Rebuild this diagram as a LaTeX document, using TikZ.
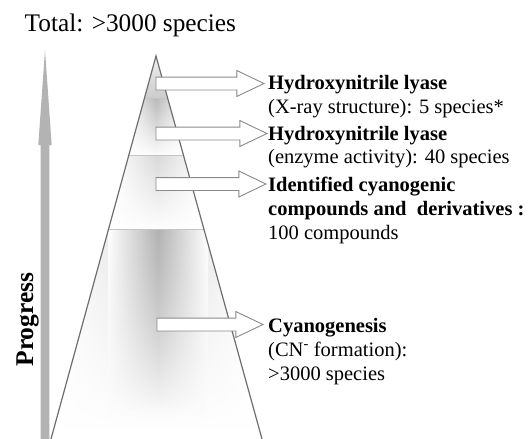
\documentclass[tikz,border=0pt]{standalone}
\usepackage{fontspec}
\setmainfont{Liberation Serif}
\usetikzlibrary{shapes.arrows,fadings,calc}
\definecolor{pyrline}{HTML}{6E6E6E}
\definecolor{sepline}{HTML}{C4C4C4}
\definecolor{arrline}{HTML}{8A8A8A}
\definecolor{progcol}{HTML}{B3B3B3}
\tikzfading[name=longdown, top color=transparent!0, middle color=transparent!25, bottom color=transparent!100]
\begin{document}
\begin{tikzpicture}[x=1pt,y=-1pt,
  blk/.style={single arrow, draw=arrline, fill=white, line width=0.9pt,
    inner xsep=0pt, inner ysep=6pt, outer sep=0pt,
    single arrow head extend=6.5pt, single arrow tip angle=51,
    anchor=tail},
  lbl/.style={anchor=base west, inner sep=0pt, font=\fontsize{20.5}{24}\selectfont},
  lblb/.style={lbl, font=\fontsize{20.5}{24}\selectfont\bfseries},
  pyr/.style={draw=pyrline, line width=1.2pt},
  sep/.style={draw=sepline, line width=1pt}]
\useasboundingbox (0,0) rectangle (528,439);
\fill[white] (0,0) rectangle (528,439);

% pyramid corner points
\coordinate (apex) at (156,56);
\coordinate (bl) at (51,439);
\coordinate (br) at (262,439);
\coordinate (l1) at ($(apex)!0.1097!(bl)$);
\coordinate (r1) at ($(apex)!0.1097!(br)$);
\coordinate (l2) at ($(apex)!0.2585!(bl)$);
\coordinate (r2) at ($(apex)!0.2585!(br)$);
\coordinate (l3) at ($(apex)!0.4517!(bl)$);
\coordinate (r3) at ($(apex)!0.4517!(br)$);

% shadings of the bands
\shade[top color=gray!12, bottom color=gray!40] (apex) -- (r1) -- (l1) -- cycle;
\begin{scope}
  \clip (l1) -- (r1) -- (r2) -- (l2) -- cycle;
  \shade[left color=white, right color=white, middle color=gray!55, path fading=south] (125,98) rectangle (187,158);
\end{scope}
\begin{scope}
  \clip (l2) -- (r2) -- (r3) -- (l3) -- cycle;
  \shade[left color=white, right color=white, middle color=gray!30, path fading=south] (112,155) rectangle (203,232);
\end{scope}
\begin{scope}
  \clip (l3) -- (r3) -- (br) -- (bl) -- cycle;
  \shade[left color=white, right color=white, middle color=gray!30, path fading=longdown] (55,229) rectangle (260,430);
  \shade[left color=white, right color=white, middle color=gray!60, path fading=longdown] (108,229) rectangle (208,415);
\end{scope}

% separators and outline
\draw[sep] (l1) -- (r1);
\draw[sep] (l2) -- (r2);
\draw[sep] (l3) -- (r3);
\draw[pyr] (bl) -- (apex) -- (br);

% progress arrow
\fill[progcol] (45,50) -- (51.7,145) -- (49.3,145) -- (49.3,439) -- (40.7,439) -- (40.7,145) -- (38.3,145) -- cycle;
\node[rotate=90, anchor=base, inner sep=0pt, font=\fontsize{25.5}{30}\selectfont\bfseries] (prog) at (33,319.5) {Progress};

% title
\node[anchor=base west, inner sep=0pt, font=\fontsize{25.3}{30}\selectfont] (title) at (24.5,31.5) {Total: >3000 species};

% block arrows
\node[blk, minimum height=108pt] (a1) at (156,83.5) {};
\node[blk, minimum height=111pt] (a2) at (156,133.5) {};
\node[blk, minimum height=110pt] (a3) at (156,184) {};
\node[blk, minimum height=106pt] (a4) at (157,324.5) {};

% labels
\node[lblb] (t1a) at (268,89.5) {Hydroxynitrile lyase};
\node[lbl]  (t1b) at (268,113) {(X-ray structure): 5 species*};
\node[lblb] (t2a) at (268,140) {Hydroxynitrile lyase};
\node[lbl]  (t2b) at (268,163.5) {(enzyme activity): 40 species};
\node[lblb] (t3a) at (268,191) {Identified cyanogenic};
\node[lblb] (t3b) at (268,215) {compounds and~ derivatives :};
\node[lbl]  (t3c) at (268,239) {100 compounds};
\node[lblb] (t4a) at (268,332) {Cyanogenesis};
\node[lbl]  (t4b) at (268,356) {(CN\textsuperscript{-} formation):};
\node[lbl]  (t4c) at (268,380) {>3000 species};
\end{tikzpicture}
\end{document}
